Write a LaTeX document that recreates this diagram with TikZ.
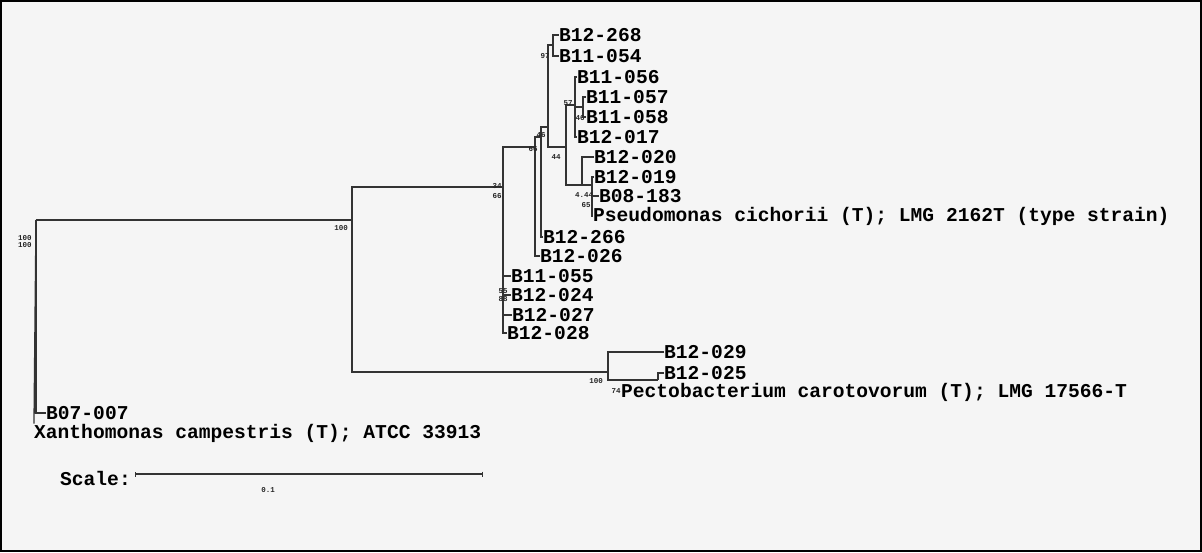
\documentclass[tikz,border=0pt]{standalone}
\usepackage{fontspec}
\setmonofont{Liberation Mono}
\usetikzlibrary{arrows.meta}

\begin{document}
\begin{tikzpicture}[x=1pt,y=-1pt,
  br/.style={line width=1.3pt,black!80},
  leaf/.style={anchor=west,inner sep=0pt,font=\ttfamily\bfseries\fontsize{19.6}{20}\selectfont},
  boot/.style={inner sep=0pt,font=\ttfamily\bfseries\fontsize{7.5}{7.5}\selectfont,black!85}]
\useasboundingbox (0,0) rectangle (1202,552);
\filldraw[fill=black!4,draw=black,line width=2pt] (1,1) rectangle (1201,551);
% leaves
\foreach \n/\x/\y/\t in {a268/559/35/B12-268, a054/559/56/B11-054, a056/577/77/B11-056,
  a057/586/97/B11-057, a058/586/117/B11-058, a017/577/137/B12-017, a020/594/157/B12-020,
  a019/594/177/B12-019, a183/599/196/B08-183, a266/543/237/B12-266, a026/540/256/B12-026,
  a055/511/276/B11-055, a024/511/295/B12-024, a027/512/315/B12-027, a028/507/333/B12-028,
  a029/664/352/B12-029, a025/664/373/B12-025, a007/46/413/B07-007}
  \node[leaf] (\n) at (\x,\y) {\t};
\node[leaf] (pcic) at (593,216) {Pseudomonas cichorii (T); LMG 2162T (type strain)};
\node[leaf] (pcar) at (621,392) {Pectobacterium carotovorum (T); LMG 17566-T};
\node[leaf] (xcam) at (34,433) {Xanthomonas campestris (T); ATCC 33913};
% internal nodes
\coordinate (nR) at (36,220);
\coordinate (nA) at (352,220);
\coordinate (nB) at (503,187);
\coordinate (nC) at (535,147);
\coordinate (nD) at (541,137);
\coordinate (nE) at (548,127);
\coordinate (nF) at (553,45);
\coordinate (nG) at (566,147);
\coordinate (nH) at (575,105);
\coordinate (nJ) at (583,107);
\coordinate (nI) at (582,185);
\coordinate (nK) at (592,185);
\coordinate (nP) at (608,372);
\coordinate (nQ) at (658,380);
% branches
\draw[br] (nR) |- (nA);
\draw[br] (nR) |- (a007.west);
\draw[br] (nR) -- (xcam.north west);
\draw[br] (nA) |- (nB);
\draw[br] (nA) |- (nP);
\draw[br] (nP) |- (a029.west);
\draw[br] (nP) |- (nQ);
\draw[br] (nQ) |- (a025.west);
\draw[br] (nB) |- (nC);
\foreach \n in {a055,a024,a027,a028} \draw[br] (nB) |- (\n.west);
\draw[br] (nC) |- (nD);
\draw[br] (nC) |- (a026.west);
\draw[br] (nD) |- (nE);
\draw[br] (nD) |- (a266.west);
\draw[br] (nE) |- (nF);
\draw[br] (nE) |- (nG);
\draw[br] (nF) |- (a268.west);
\draw[br] (nF) |- (a054.west);
\draw[br] (nG) |- (nH);
\draw[br] (nG) |- (nI);
\draw[br] (nH) |- (a056.west);
\draw[br] (nH) |- (nJ);
\draw[br] (nH) |- (a017.west);
\draw[br] (nJ) |- (a057.west);
\draw[br] (nJ) |- (a058.west);
\draw[br] (nI) |- (a020.west);
\draw[br] (nI) |- (nK);
\draw[br] (nK) |- (a019.west);
\draw[br] (nK) |- (a183.west);
\draw[br] (nK) |- (pcic.west);
% bootstrap values
\node[boot] (b1) at (25,238) {100};
\node[boot] (b2) at (25,245) {100};
\node[boot] (b3) at (341,228) {100};
\node[boot] (b4) at (497,186) {34};
\node[boot] (b5) at (497,196) {66};
\node[boot] (b6) at (533,149) {66};
\node[boot] (b7) at (541,135) {46};
\node[boot] (b8) at (545,56) {97};
\node[boot] (b9) at (568,103) {57};
\node[boot] (b10) at (580,118) {46};
\node[boot] (b11) at (556,157) {44};
\node[boot] (b12) at (584,195) {4.44};
\node[boot] (b13) at (586,205) {65};
\node[boot] (b14) at (503,291) {55};
\node[boot] (b15) at (503,299) {88};
\node[boot] (b16) at (596,381) {100};
\node[boot] (b17) at (616,391) {74};
% scale
\node[leaf,anchor=west] (scl) at (60,478) {Scale:};
\coordinate (sL) at (135,474);
\coordinate (sR) at (483,474);
\draw[line width=1.3pt,black!80,{Bar[width=5pt]}-{Bar[width=5pt]}] (sL) -- (sR);
\node[boot] (sv) at (268,490) {0.1};
\end{tikzpicture}
\end{document}
